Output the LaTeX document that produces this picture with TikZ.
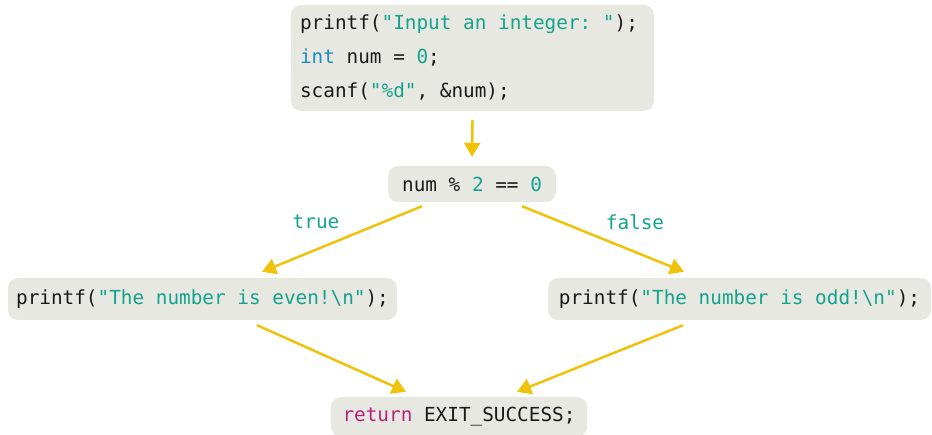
\documentclass[tikz,border=0pt]{standalone}
\usepackage{fontspec}
\newfontfamily\codefont{DejaVu Sans Mono}
\usetikzlibrary{calc,arrows.meta}
\definecolor{boxbg}{HTML}{E8E8E3}
\definecolor{codeblack}{HTML}{1A1A1A}
\definecolor{strteal}{HTML}{14A38B}
\definecolor{kwblue}{HTML}{1A8CC0}
\definecolor{kwmag}{HTML}{B3247A}
\definecolor{arrowc}{HTML}{F0C20A}
\newcommand{\str}[1]{\textcolor{strteal}{#1}}
\newcommand{\kwb}[1]{\textcolor{kwblue}{#1}}
\newcommand{\kwm}[1]{\textcolor{kwmag}{#1}}
\begin{document}
\begin{tikzpicture}[x=1pt,y=-1pt,
  codebox/.style={fill=boxbg, rounded corners=10pt, inner sep=0pt,
    font=\codefont\frenchspacing\fontsize{19.35pt}{34pt}\selectfont, text=codeblack},
  flow/.style={draw=arrowc, line width=2.5pt, -{Triangle[length=14pt,width=16pt]}},
  lbl/.style={text=strteal, inner sep=0pt, font=\codefont\fontsize{19.35pt}{33pt}\selectfont}]
\useasboundingbox (0,0) rectangle (932,435);

\node[codebox, minimum width=363pt, minimum height=106pt, align=left] (init) at (472.5,58)
  {printf(\str{"Input an integer: "});\hspace*{7pt}\\ \kwb{int} num = \str{0};\\ scanf(\str{"\%d"}, \&num);};

\node[codebox, minimum width=168pt, minimum height=36pt] (cond) at (472,184)
  {num \% \str{2} == \str{0}};

\node[codebox, minimum width=389pt, minimum height=42pt] (even) at (202.5,299)
  {printf(\str{"The number is even!\textbackslash n"});};

\node[codebox, minimum width=383pt, minimum height=42pt] (odd) at (739.5,299)
  {printf(\str{"The number is odd!\textbackslash n"});};

\node[codebox, minimum width=256pt, minimum height=40pt] (ret) at (459,417)
  {\kwm{return} EXIT\_SUCCESS;};

\node[lbl] (ltrue) at (316,222) {true};
\node[lbl] (lfalse) at (635,222) {false};

\draw[flow] ($(init.south)+(0,9)$) -- ($(cond.north)+(0,-9)$);
\draw[flow] ($(cond.south)+(-50,4)$) -- ($(even.north)+(59.5,-6)$);
\draw[flow] ($(cond.south)+(50,4)$) -- ($(odd.north)+(-55.5,-6)$);
\draw[flow] ($(even.south)+(54.5,5)$) -- ($(ret.north)+(-53,-5)$);
\draw[flow] ($(odd.south)+(-56.5,5)$) -- ($(ret.north)+(58,-5)$);
\end{tikzpicture}
\end{document}
